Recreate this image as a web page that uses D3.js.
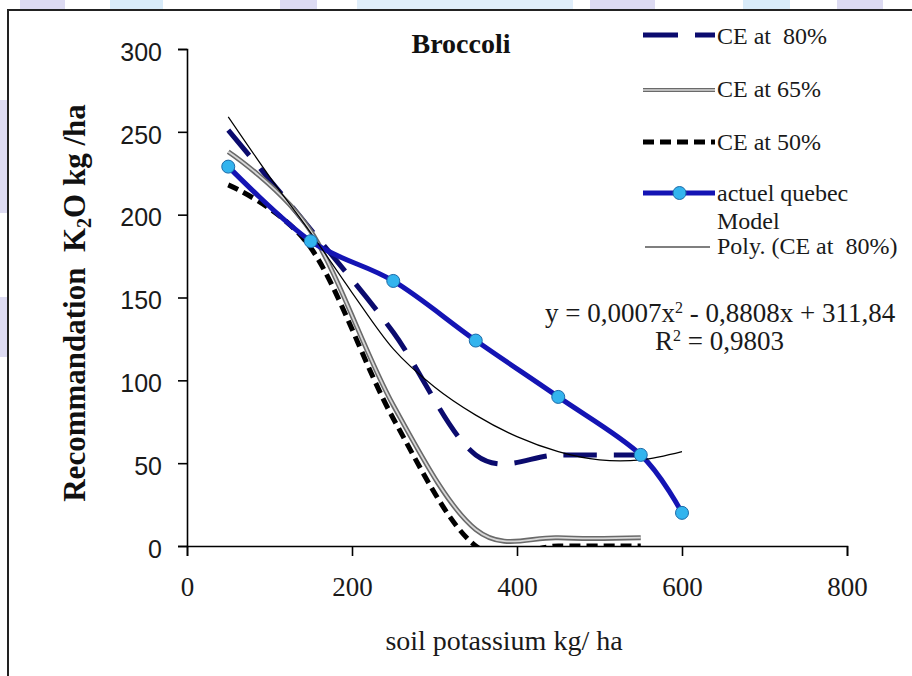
<!DOCTYPE html>
<html>
<head>
<meta charset="utf-8">
<script src="https://d3js.org/d3.v7.min.js"></script>
<style>
  html, body { margin: 0; padding: 0; background: #fff; }
  svg { display: block; }
</style>
</head>
<body>
<div id="chart"></div>
<script>
// ---- data ----
const potassium = [50, 150, 250, 350, 450, 550];
const ce80 = [251, 191, 129, 55, 55, 55];
const ce65 = [238, 190, 85, 10, 5, 5];
const ce50 = [218, 180, 77, 0, 0, 0];

const quebecK = [50, 150, 250, 350, 450, 550, 600];
const quebecRec = [229, 184, 160, 124, 90, 55, 20];

// polynomial trendline of CE at 80%, sampled from the drawn curve
const polyK = [50, 100, 150, 200, 250, 300, 350, 400, 450, 500, 550, 600];
const polyRec = [259, 223, 189, 153, 119, 96, 79, 66, 57, 52, 52, 57];

const xTicks = [0, 200, 400, 600, 800];
const yTicks = [0, 50, 100, 150, 200, 250, 300];

const legendLabels = ['CE at  80%', 'CE at 65%', 'CE at 50%', 'actuel quebec', 'Poly. (CE at  80%)'];

const W = 912, H = 676;
const SERIF = '"Liberation Serif", "DejaVu Serif", serif';
const SANS = '"Liberation Sans", Arial, sans-serif';

const navy = '#0b0b6e';
const blue = '#1414b4';
const markerFill = '#33b4ee';

const svg = d3.select('#chart').append('svg')
  .attr('width', W)
  .attr('height', H);

svg.append('rect').attr('width', W).attr('height', H).attr('fill', '#fff');

// faint watermark blobs outside the frame (top strip and left edge)
const blobsTop = [[20, 65, '#dddbf2'], [110, 163, '#d8ebf9'], [280, 317, '#dddbf2'],
  [357, 573, '#e0eefa'], [590, 655, '#dddbf2'], [743, 790, '#d8ebf9'], [837, 883, '#dddbf2']];
blobsTop.forEach(b => {
  svg.append('rect').attr('x', b[0]).attr('y', 0).attr('width', b[1] - b[0]).attr('height', 10)
    .attr('fill', b[2]);
});
[[100, 213], [297, 357]].forEach(b => {
  svg.append('rect').attr('x', 0).attr('y', b[0]).attr('width', 7).attr('height', b[1] - b[0])
    .attr('fill', '#dddbf2');
});

// frame (only top and left edges show)
svg.append('path')
  .attr('d', `M8,${H} V10 H${W}`)
  .attr('fill', 'none')
  .attr('stroke', '#222')
  .attr('stroke-width', 2);

// scales
const x = d3.scaleLinear().domain([0, 800]).range([187, 847]);
const y = d3.scaleLinear().domain([0, 300]).range([546, 49]);

// axes
const xAxis = svg.append('g')
  .attr('transform', `translate(0,${y(0)})`)
  .call(d3.axisBottom(x).tickValues(xTicks).tickSize(10).tickPadding(21).tickFormat(d3.format('d')));
const yAxis = svg.append('g')
  .attr('transform', `translate(${x(0)},0)`)
  .call(d3.axisLeft(y).tickValues(yTicks).tickSize(9).tickPadding(16).tickFormat(d3.format('d')));

[xAxis, yAxis].forEach(g => {
  g.selectAll('path, line').attr('stroke', '#000').attr('stroke-width', 1.6);
});
xAxis.selectAll('text')
  .attr('font-family', SERIF).attr('font-size', 27).attr('fill', '#1a1a1a');
yAxis.selectAll('text')
  .attr('font-family', SANS).attr('font-size', 25).attr('fill', '#1a1a1a')
  .attr('dy', '0.45em');

// clip lines to the plot area like the spreadsheet does
svg.append('clipPath').attr('id', 'plot-clip')
  .append('rect')
  .attr('x', x(0)).attr('y', y(300))
  .attr('width', x(800) - x(0)).attr('height', y(0) - y(300));

const plot = svg.append('g').attr('clip-path', 'url(#plot-clip)');

const smooth = d3.line()
  .x(d => x(d[0]))
  .y(d => y(d[1]))
  .curve(d3.curveCatmullRom.alpha(0));

const pts = (xs, ys) => xs.map((v, i) => [v, ys[i]]);

// CE at 80% - long navy dashes
plot.append('path')
  .attr('d', smooth(pts(potassium, ce80)))
  .attr('fill', 'none')
  .attr('stroke', navy)
  .attr('stroke-width', 5)
  .attr('stroke-dasharray', '33,17');

// CE at 65% - grey double line
plot.append('path')
  .attr('d', smooth(pts(potassium, ce65)))
  .attr('fill', 'none')
  .attr('stroke', '#6a6a6a')
  .attr('stroke-width', 5);
plot.append('path')
  .attr('d', smooth(pts(potassium, ce65)))
  .attr('fill', 'none')
  .attr('stroke', '#d8d8d8')
  .attr('stroke-width', 1.8);

// CE at 50% - short black dashes
plot.append('path')
  .attr('d', smooth(pts(potassium, ce50)))
  .attr('fill', 'none')
  .attr('stroke', '#000')
  .attr('stroke-width', 5)
  .attr('stroke-dasharray', '11,6');

// actuel quebec model
plot.append('path')
  .attr('d', smooth(pts(quebecK, quebecRec)))
  .attr('fill', 'none')
  .attr('stroke', blue)
  .attr('stroke-width', 5);

// polynomial trendline
plot.append('path')
  .attr('d', smooth(pts(polyK, polyRec)))
  .attr('fill', 'none')
  .attr('stroke', '#000')
  .attr('stroke-width', 1.2);

svg.append('g').selectAll('circle')
  .data(pts(quebecK, quebecRec))
  .join('circle')
  .attr('cx', d => x(d[0]))
  .attr('cy', d => y(d[1]))
  .attr('r', 6.5)
  .attr('fill', markerFill)
  .attr('stroke', '#1b6aa8')
  .attr('stroke-width', 1);

// title
svg.append('text')
  .attr('x', 461).attr('y', 53)
  .attr('text-anchor', 'middle')
  .attr('font-family', SERIF).attr('font-weight', 'bold').attr('font-size', 28)
  .attr('fill', '#111')
  .text('Broccoli');

// axis titles
svg.append('text')
  .attr('x', 504).attr('y', 650)
  .attr('text-anchor', 'middle')
  .attr('font-family', SERIF).attr('font-size', 28).attr('fill', '#1a1a1a')
  .text('soil potassium kg/ ha');

const yTitle = svg.append('text')
  .attr('transform', 'translate(85,303) rotate(-90)')
  .attr('text-anchor', 'middle')
  .attr('font-family', SERIF).attr('font-weight', 'bold').attr('font-size', 31)
  .attr('fill', '#111')
  .attr('xml:space', 'preserve');
yTitle.append('tspan').text('Recommandation  K');
yTitle.append('tspan').attr('font-size', 20).attr('dy', 6).text('2');
yTitle.append('tspan').attr('dy', -6).text('O kg /ha');

// regression equation
const eq = svg.append('text')
  .attr('x', 545).attr('y', 322)
  .attr('font-family', SERIF).attr('font-size', 27).attr('fill', '#1a1a1a');
eq.append('tspan').text('y = 0,0007x');
eq.append('tspan').attr('font-size', 16).attr('dy', -9).text('2');
eq.append('tspan').attr('dy', 9).text(' - 0,8808x + 311,84');

const r2 = svg.append('text')
  .attr('x', 655).attr('y', 350)
  .attr('font-family', SERIF).attr('font-size', 27).attr('fill', '#1a1a1a');
r2.append('tspan').text('R');
r2.append('tspan').attr('font-size', 16).attr('dy', -9).text('2');
r2.append('tspan').attr('dy', 9).text(' = 0,9803');

// legend
const legend = svg.append('g').attr('font-family', SERIF).attr('font-size', 24).attr('fill', '#1a1a1a');
const lx0 = 643, lx1 = 715, tx = 717;
const legendY = [35, 90, 142, 193, 247];

// CE at 80%
legend.append('line').attr('x1', lx0).attr('x2', lx1).attr('y1', legendY[0]).attr('y2', legendY[0])
  .attr('stroke', navy).attr('stroke-width', 5).attr('stroke-dasharray', '35,17');
// CE at 65%
legend.append('line').attr('x1', lx0).attr('x2', lx1).attr('y1', legendY[1]).attr('y2', legendY[1])
  .attr('stroke', '#6a6a6a').attr('stroke-width', 4);
legend.append('line').attr('x1', lx0).attr('x2', lx1).attr('y1', legendY[1]).attr('y2', legendY[1])
  .attr('stroke', '#d8d8d8').attr('stroke-width', 1.4);
// CE at 50%
legend.append('line').attr('x1', lx0).attr('x2', lx1).attr('y1', legendY[2]).attr('y2', legendY[2])
  .attr('stroke', '#000').attr('stroke-width', 5).attr('stroke-dasharray', '11,6');
// actuel quebec
legend.append('line').attr('x1', lx0).attr('x2', lx1).attr('y1', legendY[3]).attr('y2', legendY[3])
  .attr('stroke', blue).attr('stroke-width', 5);
legend.append('circle').attr('cx', (lx0 + lx1) / 2 + 0.5).attr('cy', legendY[3]).attr('r', 6.5)
  .attr('fill', markerFill).attr('stroke', '#1b6aa8').attr('stroke-width', 1);
// poly trendline
legend.append('line').attr('x1', lx0 + 2).attr('x2', lx1 - 5).attr('y1', legendY[4]).attr('y2', legendY[4])
  .attr('stroke', '#000').attr('stroke-width', 1.2);

legend.append('text').attr('x', tx).attr('y', 44).attr('xml:space', 'preserve').text(legendLabels[0]);
legend.append('text').attr('x', tx).attr('y', 97).text(legendLabels[1]);
legend.append('text').attr('x', tx).attr('y', 150).text(legendLabels[2]);
legend.append('text').attr('x', tx).attr('y', 201).text(legendLabels[3]);
legend.append('text').attr('x', tx).attr('y', 229).text('Model');
legend.append('text').attr('x', tx).attr('y', 254).attr('xml:space', 'preserve').text(legendLabels[4]);
</script>
</body>
</html>
